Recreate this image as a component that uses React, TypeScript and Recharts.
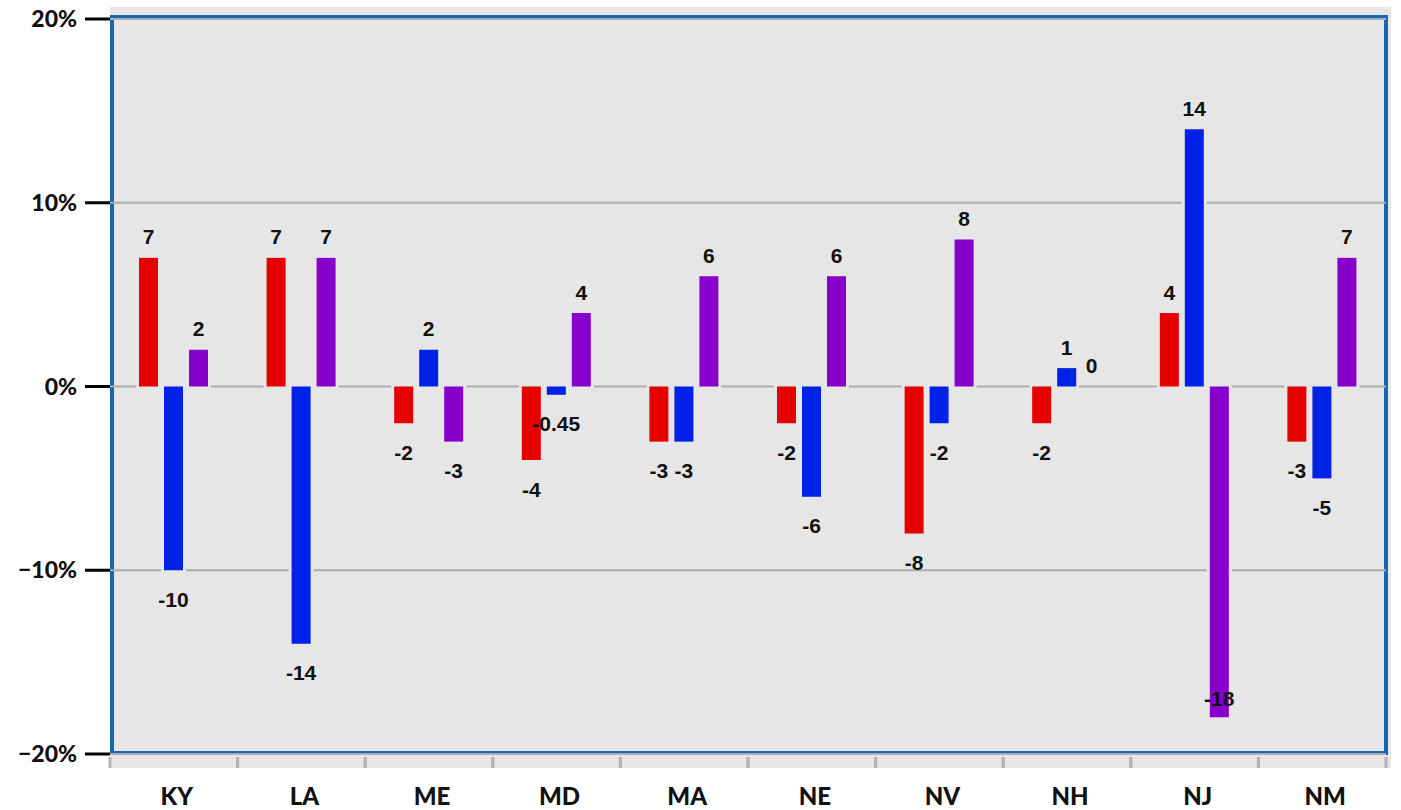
import { BarChart, Bar, XAxis, YAxis, CartesianGrid, LabelList } from "recharts";

const states = ["KY", "LA", "ME", "MD", "MA", "NE", "NV", "NH", "NJ", "NM"];
const redValues = [7, 7, -2, -4, -3, -2, -8, -2, 4, -3];
const blueValues = [-10, -14, 2, -0.45, -3, -6, -2, 1, 14, -5];
const purpleValues = [2, 7, -3, 4, 6, 6, 8, 0, -18, 7];
const yTicks = [-20, -10, 0, 10, 20];

const W = 1401;
const H = 810;
const PLOT = { left: 110, top: 19, right: 1386, bottom: 754 };
const BAND = (PLOT.right - PLOT.left) / states.length;
const BG = "#e6e6e6";

const data = states.map((s, i) => ({
  state: s,
  red: redValues[i],
  blue: blueValues[i],
  purple: purpleValues[i],
}));

// bar with a background-coloured halo so grid lines break around it
const HaloBar = (props: any) => {
  const { x, y, width, height, fill } = props;
  const h = Math.abs(height);
  if (!h) return null;
  const top = Math.min(y, y + height);
  return (
    <g>
      <rect x={x - 3} y={top - 3} width={width + 6} height={h + 6} fill={BG} />
      <rect x={x} y={top} width={width} height={h} fill={fill} />
    </g>
  );
};

const renderLabel = (props: any) => {
  const { x, y, width, height, value } = props;
  const top = Math.min(y, y + height);
  const bottom = Math.max(y, y + height);
  const cx = x + width / 2;
  const cy = value >= 0 ? top - 21 : Math.min(bottom + 29, PLOT.bottom - 56);
  return (
    <text
      x={cx}
      y={cy}
      textAnchor="middle"
      dominantBaseline="central"
      fontFamily="Liberation Sans, Arial, sans-serif"
      fontWeight={700}
      fontSize={21}
      fill="#111"
    >
      {value}
    </text>
  );
};

const CategoryTick = (props: any) => {
  const { x, payload } = props;
  return (
    <g>
      <line x1={x - BAND / 2} x2={x - BAND / 2} y1={757} y2={768} stroke="#b3b3b3" strokeWidth={3} />
      <line x1={x + BAND / 2} x2={x + BAND / 2} y1={757} y2={768} stroke="#b3b3b3" strokeWidth={3} />
      <text
        x={x + 3}
        y={795}
        textAnchor="middle"
        dominantBaseline="central"
        fontFamily="Lato, sans-serif"
        fontWeight={900}
        fontSize={24}
        fill="#111"
      >
        {payload.value}
      </text>
    </g>
  );
};

export default function App() {
  return (
    <div style={{ position: "absolute", left: 0, top: 0, width: W, height: H, background: "#fff" }}>
      {/* grey panel behind the plot */}
      <div style={{ position: "absolute", left: 110, top: 7, width: 1281, height: 761, background: BG }} />
      {/* blue frame */}
      <div
        style={{
          position: "absolute",
          left: 110,
          top: 15,
          width: 1278,
          height: 740,
          border: "4px solid #1367b4",
          boxSizing: "border-box",
        }}
      />
      <div style={{ position: "absolute", left: 0, top: 0 }}>
        <BarChart
          width={W}
          height={H}
          data={data}
          margin={{ top: PLOT.top, right: W - PLOT.right, bottom: 0, left: 0 }}
          barSize={19}
          barGap={6}
        >
          <CartesianGrid vertical={false} stroke="#adadad" strokeWidth={2} />
          <XAxis
            dataKey="state"
            height={H - PLOT.bottom}
            axisLine={false}
            tickLine={false}
            interval={0}
            tick={<CategoryTick />}
          />
          <YAxis
            width={PLOT.left}
            domain={[-20, 20]}
            ticks={yTicks}
            axisLine={false}
            tickSize={25}
            tickMargin={8}
            tickLine={{ stroke: "#000", strokeWidth: 3 }}
            tickFormatter={(v: number) => (v < 0 ? `\u2212${-v}%` : `${v}%`)}
            tick={{ fontFamily: "Lato, sans-serif", fontWeight: 900, fontSize: 23, fill: "#111" }}
          />
          <Bar dataKey="red" fill="#e60000" shape={<HaloBar />} isAnimationActive={false}>
            <LabelList dataKey="red" content={renderLabel} />
          </Bar>
          <Bar dataKey="blue" fill="#0022e6" shape={<HaloBar />} isAnimationActive={false}>
            <LabelList dataKey="blue" content={renderLabel} />
          </Bar>
          <Bar dataKey="purple" fill="#8800cc" shape={<HaloBar />} isAnimationActive={false}>
            <LabelList dataKey="purple" content={renderLabel} />
          </Bar>
        </BarChart>
      </div>
    </div>
  );
}
